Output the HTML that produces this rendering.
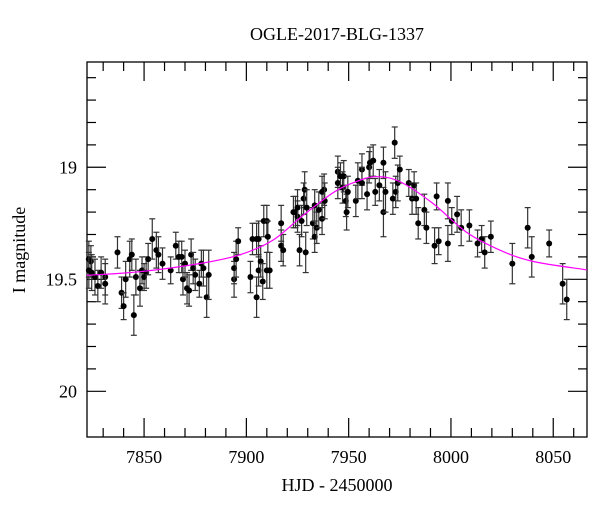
<!DOCTYPE html>
<html><head><meta charset="utf-8">
<style>
html,body{margin:0;padding:0;background:#fff;}
svg{display:block;font-family:"Liberation Serif",serif;}
</style></head>
<body>
<svg id="chart" width="600" height="512" viewBox="0 0 600 512">
<text x="337" y="40" text-anchor="middle" font-size="18">OGLE-2017-BLG-1337</text>
<text x="337" y="491" text-anchor="middle" font-size="18">HJD - 2450000</text>
<text transform="translate(25,250) rotate(-90)" text-anchor="middle" font-size="18">I magnitude</text>
<g id="plot"></g>
</svg>
<script>
const days = [7823,7824,7823,7824.4,7826,7827.4,7829,7831,7831,7837,7839,7840,7841,7843,7844,7845,7846,7848,7849,7850,7851,7852,7854,7856,7857,7859,7863,7865.5,7867,7868.4,7869,7870,7871,7872,7873,7874,7875,7877,7878,7879,7880.6,7881.6,7894,7894,7895,7896,7902,7903,7905,7905,7906,7906,7907,7908,7908.5,7910,7910,7910.5,7911.4,7917,7917,7918,7923,7924,7925,7925,7926,7927,7928,7928.5,7929,7929.5,7932.5,7933.4,7933.4,7934.4,7935.4,7937,7937,7938,7938.3,7944.7,7944.7,7946,7947,7947.6,7948.6,7949,7949.6,7953.5,7954.5,7956.5,7956.5,7959,7960,7960.4,7962,7963,7965,7967,7967,7968,7971.6,7972.5,7973,7974,7975,7979.4,7981,7982,7983,7984,7987,7988,7992,7993,7994,7998.5,7998.5,8000.4,8003,8005,8009,8013,8015,8016.5,8019.5,8030,8037.5,8039.5,8048,8054.6,8056.6];
const mags = [19.41,19.42,19.46,19.47,19.49,19.53,19.47,19.49,19.52,19.38,19.56,19.62,19.50,19.41,19.39,19.66,19.49,19.54,19.46,19.49,19.47,19.41,19.32,19.37,19.39,19.43,19.46,19.35,19.40,19.40,19.50,19.43,19.54,19.55,19.39,19.45,19.48,19.52,19.43,19.45,19.58,19.48,19.50,19.45,19.41,19.33,19.49,19.32,19.32,19.58,19.46,19.32,19.42,19.51,19.24,19.24,19.46,19.31,19.46,19.25,19.35,19.37,19.20,19.20,19.22,19.18,19.37,19.24,19.14,19.10,19.38,19.18,19.25,19.17,19.31,19.27,19.19,19.23,19.11,19.10,19.15,19.02,19.07,19.04,19.09,19.04,19.15,19.20,19.11,19.15,19.06,19.01,19.07,19.12,19.00,18.98,18.97,19.11,19.08,19.20,18.98,19.11,19.14,18.89,19.11,19.07,19.01,19.07,19.14,19.08,19.14,19.25,19.19,19.27,19.35,19.13,19.33,19.15,19.34,19.24,19.21,19.27,19.26,19.34,19.32,19.38,19.31,19.43,19.27,19.40,19.34,19.52,19.59];
const errs = [0.08,0.07,0.08,0.08,0.08,0.07,0.07,0.08,0.09,0.07,0.07,0.06,0.08,0.08,0.07,0.09,0.08,0.08,0.06,0.06,0.07,0.07,0.09,0.08,0.08,0.07,0.06,0.06,0.07,0.07,0.07,0.06,0.07,0.07,0.07,0.07,0.07,0.06,0.06,0.08,0.09,0.11,0.08,0.07,0.08,0.06,0.07,0.07,0.07,0.09,0.07,0.08,0.07,0.08,0.07,0.07,0.08,0.07,0.08,0.08,0.07,0.07,0.07,0.07,0.07,0.08,0.07,0.07,0.07,0.08,0.09,0.08,0.07,0.07,0.07,0.07,0.08,0.07,0.07,0.07,0.08,0.07,0.07,0.06,0.07,0.07,0.07,0.08,0.07,0.07,0.08,0.07,0.07,0.07,0.07,0.07,0.07,0.06,0.07,0.11,0.07,0.09,0.07,0.07,0.07,0.08,0.06,0.06,0.07,0.06,0.07,0.07,0.07,0.07,0.08,0.06,0.06,0.08,0.08,0.06,0.08,0.08,0.07,0.06,0.06,0.07,0.07,0.09,0.09,0.09,0.06,0.09,0.09];
const modelDays = [7822,7848,7877,7897,7913,7927,7942,7952,7963,7975,7991,8007.6,8024,8040,8066.5];
const modelMags = [19.482,19.466,19.43,19.39,19.325,19.22,19.116,19.07,19.042,19.064,19.16,19.29,19.37,19.42,19.458];
const xTickLabels = [7850,7900,7950,8000,8050];
const yTickLabels = [19,19.5,20];

const L=87,R=587,T=62,B=437;
const xMin=7822.1,xMax=8066.5,yMin=18.53,yMax=20.204;
const xs=d=>L+(d-xMin)/(xMax-xMin)*(R-L);
const ys=m=>T+(m-yMin)/(yMax-yMin)*(B-T);
const NS="http://www.w3.org/2000/svg";
const plot=document.getElementById('plot');
function mk(tag,attrs){const e=document.createElementNS(NS,tag);for(const k in attrs)e.setAttribute(k,attrs[k]);return e;}

const frame=mk('rect',{x:L,y:T,width:R-L,height:B-T,fill:'none',stroke:'#000','stroke-width':1.3});


plot.appendChild(frame);

const xt=mk('g',{stroke:'#000','stroke-width':1.2});


for(let d=7830; d<=8060; d+=10){
  const x=xs(d), maj=(d%50===0), len=maj?19:9;
  xt.appendChild(mk('line',{x1:x,y1:B,x2:x,y2:B-len}));
  xt.appendChild(mk('line',{x1:x,y1:T,x2:x,y2:T+len}));
}
plot.appendChild(xt);
xTickLabels.forEach(v=>{
  const t=mk('text',{x:xs(v),y:B+26,'text-anchor':'middle','font-size':18});
  t.textContent=v;
  
  
  plot.appendChild(t);
});
const yt=mk('g',{stroke:'#000','stroke-width':1.2});


for(let i=6;i<=20;i++){
  const m=18+i*0.1, y=ys(m), maj=(i%5===0), len=maj?19:9;
  yt.appendChild(mk('line',{x1:L,y1:y,x2:L+len,y2:y}));
  yt.appendChild(mk('line',{x1:R,y1:y,x2:R-len,y2:y}));
}
plot.appendChild(yt);
yTickLabels.forEach(v=>{
  const t=mk('text',{x:77,y:ys(v)+6,'text-anchor':'end','font-size':18});
  t.textContent=v;
  
  
  plot.appendChild(t);
});

const pts=modelDays.map((d,i)=>[xs(d),ys(modelMags[i])]);
let dstr=`M${pts[0][0]},${pts[0][1]}`;
for(let i=0;i<pts.length-1;i++){
  const p0=pts[Math.max(0,i-1)],p1=pts[i],p2=pts[i+1],p3=pts[Math.min(pts.length-1,i+2)];
  const c1=[p1[0]+(p2[0]-p0[0])/6,p1[1]+(p2[1]-p0[1])/6];
  const c2=[p2[0]-(p3[0]-p1[0])/6,p2[1]-(p3[1]-p1[1])/6];
  dstr+=` C${c1[0]},${c1[1]} ${c2[0]},${c2[1]} ${p2[0]},${p2[1]}`;
}
const model=mk('path',{d:dstr,fill:'none',stroke:'#ff00ff','stroke-width':1.2});



const dg=mk('g',{});


days.forEach((d,i)=>{
  const x=xs(d), y=ys(mags[i]), y1=ys(mags[i]-errs[i]), y2=ys(mags[i]+errs[i]);
  const g=mk('g',{stroke:'#333','stroke-width':1.2});
  
  
  g.appendChild(mk('line',{x1:x,y1:y1,x2:x,y2:y2}));
  g.appendChild(mk('line',{x1:x-3,y1:y1,x2:x+3,y2:y1}));
  g.appendChild(mk('line',{x1:x-3,y1:y2,x2:x+3,y2:y2}));
  g.appendChild(mk('circle',{cx:x,cy:y,r:3,fill:'#000',stroke:'none'}));
  dg.appendChild(g);
});
plot.appendChild(dg);
plot.appendChild(model);
</script>
</body></html>
